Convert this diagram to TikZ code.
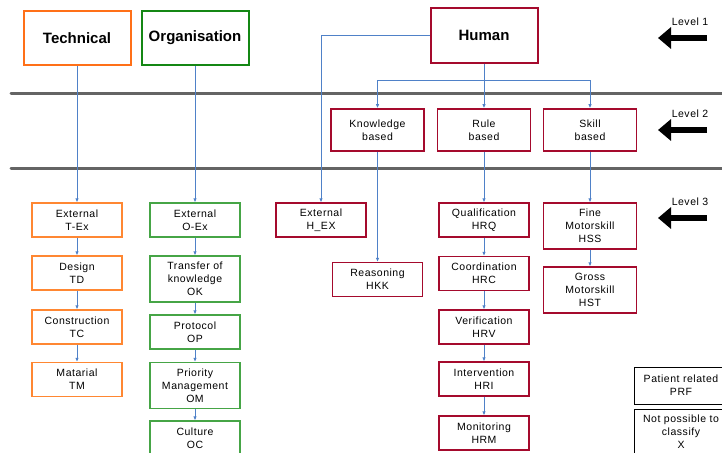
\documentclass[tikz,border=0pt]{standalone}
\usepackage{fontspec}
\setmainfont{Liberation Sans}
\newfontfamily\boxfont{Liberation Sans}[LetterSpace=5]
\usetikzlibrary{arrows.meta}

\definecolor{techorange}{RGB}{255,112,24}
\definecolor{techlight}{RGB}{255,135,50}
\definecolor{orggreen}{RGB}{20,135,20}
\definecolor{orglight}{RGB}{70,165,70}
\definecolor{humred}{RGB}{165,10,45}
\definecolor{linkblue}{RGB}{79,129,200}
\definecolor{bargray}{RGB}{100,100,100}

\tikzset{
  topbox/.style={draw, line width=2pt, minimum width=107pt, minimum height=54pt,
    font=\bfseries\fontsize{15}{18}\selectfont},
  midbox/.style={draw=humred, line width=1.6pt, minimum width=93pt, minimum height=42pt,
    align=center, font=\boxfont\fontsize{10.5}{13}\selectfont},
  catbox/.style={draw, line width=1.3pt, minimum width=90pt, minimum height=34pt,
    align=center, inner sep=1pt, font=\boxfont\fontsize{10.5}{13}\selectfont},
  tallbox/.style={catbox, minimum height=46pt},
  link/.style={draw=linkblue, line width=0.8pt, -{Latex[length=4pt,width=3.5pt]}},
  plainlink/.style={draw=linkblue, line width=0.8pt},
  bar/.style={draw=bargray, line width=3pt, line cap=round},
  levelarrow/.style={line width=6.5pt, -{Triangle[length=13pt,width=21pt]}},
  levellabel/.style={font=\boxfont\fontsize{10.5}{13}\selectfont}
}

\begin{document}
\begin{tikzpicture}[x=1pt, y=-1pt]
\useasboundingbox (0,0) rectangle (722,452);

% separating bars
\draw[bar] (11,93) -- (724,93);
\draw[bar] (11,168) -- (724,168);

% level 1
\node[topbox, draw=techorange] (tech) at (77,38) {Technical};
\node[topbox, draw=orggreen] (org) at (195,38) {Organisation};
\node[topbox, draw=humred] (human) at (484,35.5) {Human};

% level 2
\node[midbox] (know) at (377.5,130) {Knowledge\\based};
\node[midbox] (rule) at (484,130) {Rule\\based};
\node[midbox] (skill) at (590,130) {Skill\\based};

% level 3 - technical
\node[catbox, draw=techlight] (tex) at (77,220) {External\\T-Ex};
\node[catbox, draw=techlight] (td) at (77,273) {Design\\TD};
\node[catbox, draw=techlight] (tc) at (77,327) {Construction\\TC};
\node[catbox, draw=techlight] (tm) at (77,379.5) {Matarial\\TM};

% level 3 - organisation
\node[catbox, draw=orglight] (oex) at (195,220) {External\\O-Ex};
\node[tallbox, draw=orglight] (ok) at (195,279) {Transfer of\\knowledge\\OK};
\node[catbox, draw=orglight] (op) at (195,332) {Protocol\\OP};
\node[tallbox, draw=orglight] (om) at (195,385.5) {Priority\\Management\\OM};
\node[catbox, draw=orglight] (oc) at (195,438) {Culture\\OC};

% level 3 - human
\node[catbox, draw=humred] (hex) at (321,220) {External\\H\_EX};
\node[catbox, draw=humred] (hkk) at (377.5,279.5) {Reasoning\\HKK};
\node[catbox, draw=humred] (hrq) at (484,220) {Qualification\\HRQ};
\node[catbox, draw=humred] (hrc) at (484,273.5) {Coordination\\HRC};
\node[catbox, draw=humred] (hrv) at (484,327) {Verification\\HRV};
\node[catbox, draw=humred] (hri) at (484,379) {Intervention\\HRI};
\node[catbox, draw=humred] (hrm) at (484,433) {Monitoring\\HRM};
\node[tallbox, draw=humred, minimum width=93pt] (hss) at (590,226) {Fine\\Motorskill\\HSS};
\node[tallbox, draw=humred, minimum width=93pt] (hst) at (590,290) {Gross\\Motorskill\\HST};

% other categories
\node[catbox, draw=black, line width=1pt, minimum width=94pt, minimum height=37pt] (prf) at (681,385.5) {Patient related\\PRF};
\node[tallbox, draw=black, line width=1pt, minimum width=94pt] (xcl) at (681,432) {Not possible to\\classify\\X};

% connectors
\coordinate (hsplit) at (484,80);
\draw[link] (tech) -- (tex);
\draw[link] (org) -- (oex);
\draw[link] (human.west) -| (hex.north);
\draw[link] (human) -- (rule);
\draw[link] (hsplit) -| (know.north);
\draw[link] (hsplit) -| (skill.north);
\draw[link] (know) -- (hkk);
\draw[link] (rule) -- (hrq);
\draw[link] (skill) -- (hss);
\foreach \a/\b in {tex/td, td/tc, tc/tm, oex/ok, ok/op, op/om, om/oc,
                   hrq/hrc, hrc/hrv, hrv/hri, hri/hrm, hss/hst}
  \draw[link] (\a) -- (\b);

% level markers
\foreach \lvl/\ypos in {1/38, 2/130, 3/218} {
  \coordinate (arrstart\lvl) at (707,\ypos);
  \coordinate (arrend\lvl) at (658,\ypos);
  \draw[levelarrow] (arrstart\lvl) -- (arrend\lvl);
  \node[levellabel] (lvl\lvl) at (690,\ypos-16) {Level \lvl};
}

\end{tikzpicture}
\end{document}
